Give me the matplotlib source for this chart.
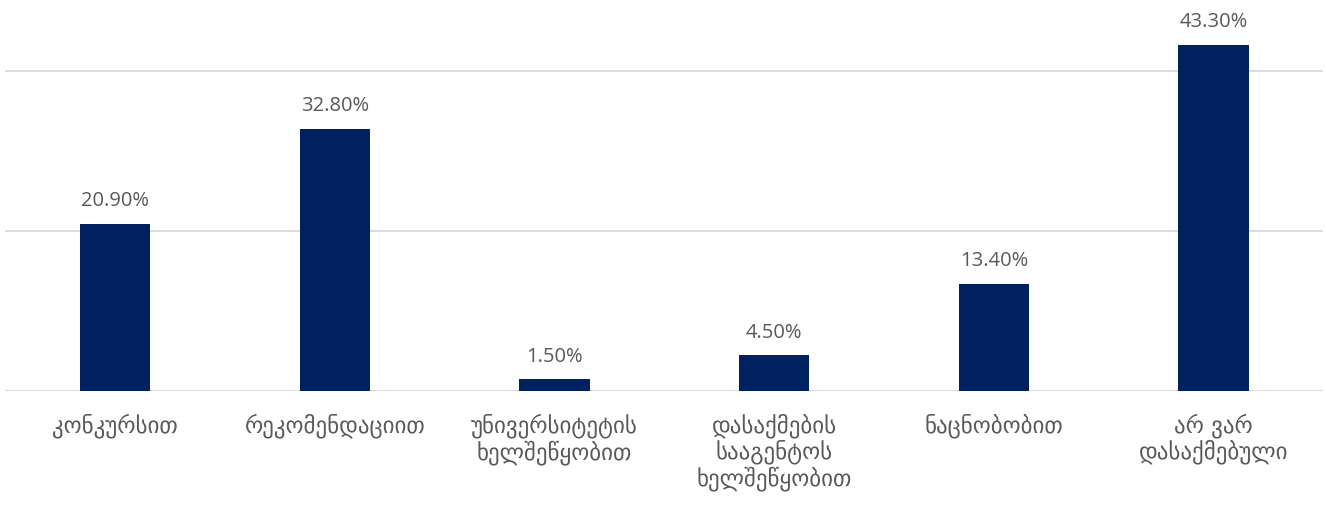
import matplotlib
matplotlib.use("Agg")
import matplotlib.pyplot as plt

categories = [
    "კონკურსით",
    "რეკომენდაციით",
    "უნივერსიტეტის\nხელშეწყობით",
    "დასაქმების\nსააგენტოს\nხელშეწყობით",
    "ნაცნობობით",
    "არ ვარ\nდასაქმებული",
]
values = [20.9, 32.8, 1.5, 4.5, 13.4, 43.3]
value_labels = ["20.90%", "32.80%", "1.50%", "4.50%", "13.40%", "43.30%"]

bar_color = "#002060"
text_color = "#595959"
grid_color = "#d9d9d9"

plt.rcParams['font.family'] = ['Open Sans', 'DejaVu Sans']

fig = plt.figure(figsize=(13.26, 5.05), dpi=100)
ax = fig.add_axes([0.004, 0.2257, 0.994, 0.7743])

x = list(range(len(categories)))
ax.bar(x, values, width=0.32, color=bar_color, zorder=3)

for xi, v, lab in zip(x, values, value_labels):
    ax.annotate(lab, (xi, v), xytext=(0, 9), textcoords="offset points",
                ha="center", va="bottom", fontsize=14.5, color=text_color)

ax.set_xlim(-0.5, len(categories) - 0.5)
ax.set_ylim(0, 48.9)
ax.set_yticks([0, 20, 40])
ax.yaxis.grid(True, color=grid_color, linewidth=1.3, zorder=0)
ax.tick_params(axis="y", left=False, labelleft=False)
ax.tick_params(axis="x", length=0, pad=16)
ax.set_xticks(x)
ax.set_xticklabels(categories, fontsize=16.5, color=text_color,
                   family=['DejaVu Sans'], linespacing=1.1, va="top")
for s in ax.spines.values():
    s.set_visible(False)

fig.savefig("out.png", dpi=100)
